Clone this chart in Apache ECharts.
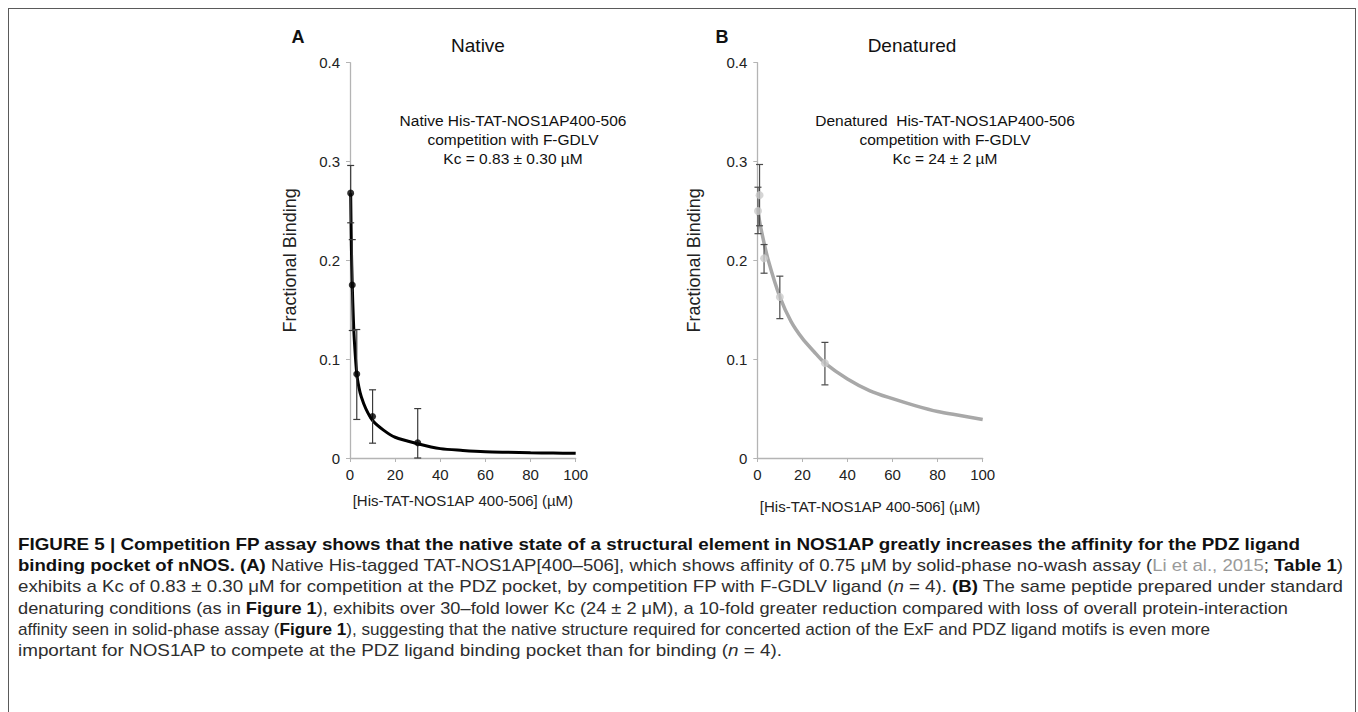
<!DOCTYPE html>
<html><head><meta charset="utf-8">
<script src="https://cdn.jsdelivr.net/npm/echarts@6/dist/echarts.min.js"></script>
<style>
html,body{margin:0;padding:0;background:#fff;}
#wrap{position:relative;width:1358px;height:712px;overflow:hidden;}
#chart{position:absolute;left:0;top:0;width:1358px;height:712px;}
#frame{position:absolute;left:8px;top:8px;width:1348px;height:720px;border:1.5px solid #5a5a5a;box-sizing:border-box;}
#cap{position:absolute;left:18px;top:534px;font-family:'Liberation Sans Narrow','Liberation Sans',Arial,sans-serif;font-size:17px;line-height:21.2px;color:#2e2e2e;}
#cap .ln{white-space:nowrap;transform-origin:0 50%;}
#cap .ln span.w{display:inline-block;}
#cap b{color:#111;}
#cap .g{color:#9a9a9a;}
</style></head>
<body><div id="wrap">
<div id="frame"></div>
<div id="chart"></div>
<div id="cap">
<div class="ln"><span class="w"><b>FIGURE 5 | Competition FP assay shows that the native state of a structural element in NOS1AP greatly increases the affinity for the PDZ ligand</b></span></div>
<div class="ln"><span class="w"><b>binding pocket of nNOS. (A)</b> Native His-tagged TAT-NOS1AP[400–506], which shows affinity of 0.75 μM by solid-phase no-wash assay (<span class="g">Li et al., 2015</span>; <b>Table 1</b>)</span></div>
<div class="ln"><span class="w">exhibits a Kc of 0.83 ± 0.30 μM for competition at the PDZ pocket, by competition FP with F-GDLV ligand (<i>n</i> = 4). <b>(B)</b> The same peptide prepared under standard</span></div>
<div class="ln"><span class="w">denaturing conditions (as in <b>Figure 1</b>), exhibits over 30–fold lower Kc (24 ± 2 μM), a 10-fold greater reduction compared with loss of overall protein-interaction</span></div>
<div class="ln"><span class="w">affinity seen in solid-phase assay (<b>Figure 1</b>), suggesting that the native structure required for concerted action of the ExF and PDZ ligand motifs is even more</span></div>
<div class="ln"><span class="w">important for NOS1AP to compete at the PDZ ligand binding pocket than for binding (<i>n</i> = 4).</span></div>
</div>
</div>
<script>
// ---- data ----
const xTicks = [0, 20, 40, 60, 80, 100];
const yTicks = [0, 0.1, 0.2, 0.3, 0.4];
// Panel A (native)
const nativePoints = [[0.3, 0.268], [1, 0.175], [3, 0.085], [10, 0.042], [30, 0.0155]];
const nativeErr = [[0.3, 0.238, 0.296], [1, 0.129, 0.221], [3, 0.039, 0.130], [10, 0.015, 0.069], [30, 0, 0.050]];
const nativeFitX = [0.3, 0.6, 1, 1.5, 2, 3, 4, 5, 7, 10, 15, 20, 30, 40, 50, 60, 70, 80, 90, 100];
const nativeFitY = [0.268, 0.215, 0.175, 0.140, 0.116, 0.085, 0.071, 0.062, 0.050, 0.038, 0.028, 0.021, 0.0145, 0.0095, 0.0077, 0.0064, 0.0058, 0.0053, 0.0050, 0.0047];
// Panel B (denatured)
const denatPoints = [[0.3, 0.250], [1, 0.266], [3, 0.202], [10, 0.163], [30, 0.096]];
const denatErr = [[0.3, 0.227, 0.274], [1, 0.235, 0.297], [3, 0.187, 0.216], [10, 0.141, 0.184], [30, 0.074, 0.117]];
const denatFitX = [0, 2, 5, 10, 15, 20, 25, 30, 40, 50, 60, 70, 80, 90, 100];
const denatFitY = [0.253, 0.228, 0.199, 0.163, 0.138, 0.121, 0.108, 0.096, 0.080, 0.068, 0.060, 0.053, 0.047, 0.043, 0.039];

const FONT = "'Liberation Sans', Arial, sans-serif";
const xName = '[His-TAT-NOS1AP 400-506] (µM)';

function zip(xs, ys){ return xs.map((x,i)=>[x, ys[i]]); }

function errItem(color){
  return function(params, api){
    const x = api.value(0), lo = api.value(1), hi = api.value(2);
    const p1 = api.coord([x, hi]), p2 = api.coord([x, lo]);
    const w = 3.5;
    const st = {stroke: color, lineWidth: 1.2};
    return {type:'group', children:[
      {type:'line', shape:{x1:p1[0], y1:p1[1], x2:p2[0], y2:p2[1]}, style: st},
      {type:'line', shape:{x1:p1[0]-w, y1:p1[1], x2:p1[0]+w, y2:p1[1]}, style: st},
      {type:'line', shape:{x1:p2[0]-w, y1:p2[1], x2:p2[0]+w, y2:p2[1]}, style: st}
    ]};
  };
}

function xAx(idx){
  return {gridIndex: idx, type:'value', min: xTicks[0], max: xTicks[xTicks.length-1], interval: 20,
    name: xName, nameLocation:'middle', nameGap: idx===0 ? 35 : 41,
    nameTextStyle:{fontFamily:FONT, fontSize:15, color:'#222'},
    axisLine:{lineStyle:{color:'#b4b4b4', width:1.3}},
    axisTick:{show:true, length:4, lineStyle:{color:'#b4b4b4'}},
    axisLabel:{fontFamily:FONT, fontSize:15, color:'#222', margin:9},
    splitLine:{show:false}};
}
function yAx(idx){
  return {gridIndex: idx, type:'value', min: yTicks[0], max: yTicks[yTicks.length-1], interval: 0.1,
    name:'Fractional Binding', nameLocation:'middle', nameGap: idx===0 ? 51 : 54,
    nameTextStyle:{fontFamily:FONT, fontSize:18, color:'#222'},
    axisLine:{show:true, lineStyle:{color:'#b4b4b4', width:1.3}},
    axisTick:{show:true, length:4, lineStyle:{color:'#b4b4b4'}},
    axisLabel:{fontFamily:FONT, fontSize:15, color:'#222', margin:10, formatter: v => v === 0 ? '0' : v.toFixed(1)},
    splitLine:{show:false}};
}

const chart = echarts.init(document.getElementById('chart'), null, {renderer:'svg'});
const txt = (x, y, s, size, weight, align) => ({type:'text', x, y,
  style:{text:s, fill:'#111', font: (weight||'normal') + ' ' + size + 'px ' + FONT, textAlign: align||'center', textVerticalAlign:'middle'}});

chart.setOption({
  animation:false,
  grid:[{left:350, top:62.7, width:225.7, height:395.3},{left:757.3, top:62.7, width:225.4, height:395.3}],
  xAxis:[xAx(0), xAx(1)],
  yAxis:[yAx(0), yAx(1)],
  series:[
    {type:'line', xAxisIndex:0, yAxisIndex:0, data: zip(nativeFitX, nativeFitY), smooth:0.3, showSymbol:false, lineStyle:{color:'#000', width:3}, z:2},
    {type:'custom', xAxisIndex:0, yAxisIndex:0, data: nativeErr, renderItem: errItem('#3a3a3a'), encode:{x:0, y:[1,2]}, z:3},
    {type:'scatter', xAxisIndex:0, yAxisIndex:0, data: nativePoints, symbolSize:7, itemStyle:{color:'#000'}, z:4},
    {type:'line', xAxisIndex:1, yAxisIndex:1, data: zip(denatFitX, denatFitY), smooth:0.3, showSymbol:false, lineStyle:{color:'#a8a8a8', width:3.5}, z:2},
    {type:'custom', xAxisIndex:1, yAxisIndex:1, data: denatErr, renderItem: errItem('#4a4a4a'), encode:{x:0, y:[1,2]}, z:3},
    {type:'scatter', xAxisIndex:1, yAxisIndex:1, data: denatPoints, symbolSize:8, itemStyle:{color:'#cbcbcb'}, z:4}
  ],
  graphic:[
    txt(298, 37, 'A', 18, 'bold'),
    txt(478, 45, 'Native', 19),
    txt(722, 37, 'B', 18, 'bold'),
    txt(912, 45, 'Denatured', 19),
    txt(513, 120, 'Native His-TAT-NOS1AP400-506', 15.5),
    txt(513, 139.5, 'competition with F-GDLV', 15.5),
    txt(513, 158.5, 'Kc = 0.83 ± 0.30 µM', 15.5),
    txt(945, 120, 'Denatured  His-TAT-NOS1AP400-506', 15.5),
    txt(945, 139.5, 'competition with F-GDLV', 15.5),
    txt(945, 158.5, 'Kc = 24 ± 2 µM', 15.5)
  ]
});

// fit caption lines horizontally (layout only): target right edges per line
const lineEnds = [1300, 1343, 1343, 1288, 1210, 782];
const lines = document.querySelectorAll('#cap .ln');
lines.forEach((l, i) => {
  const w = l.querySelector('.w').getBoundingClientRect().width;
  l.style.transform = 'scaleX(' + ((lineEnds[i] - 18) / w) + ')';
});
</script>
</body></html>
